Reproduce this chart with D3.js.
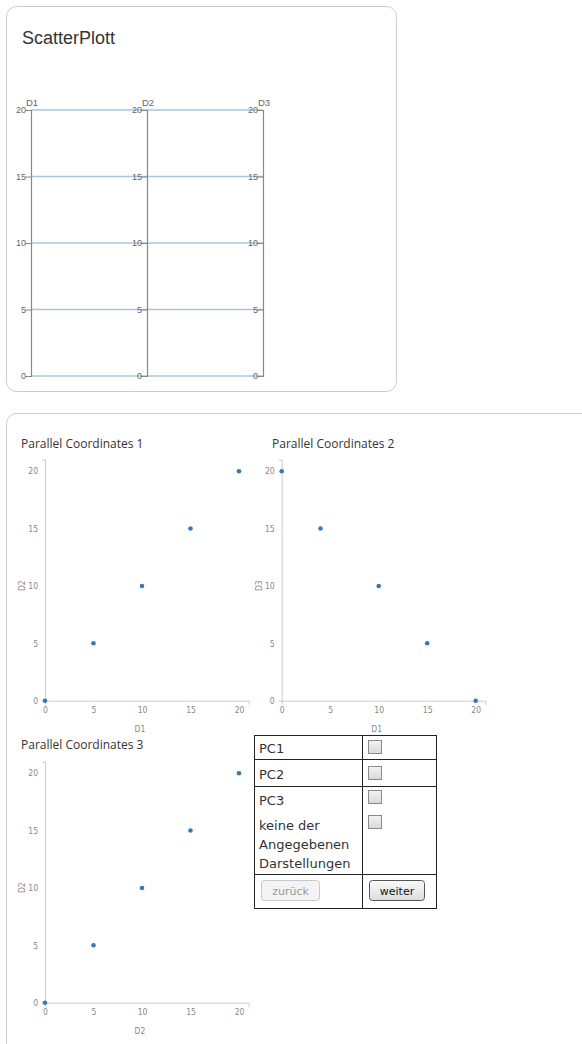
<!DOCTYPE html>
<html><head><meta charset="utf-8">
<script src="https://cdn.jsdelivr.net/npm/d3@7"></script>
<style>
html,body{margin:0;padding:0;background:#fff;}
svg{display:block;}
</style></head>
<body>
<svg id="chart" width="582" height="1044"></svg>
<script>
// ---- data ----
const dims = ["D1", "D2", "D3"];
const pcD1 = [0, 5, 10, 15, 20];
const pcD2 = [0, 5, 10, 15, 20];
const pcD3 = [0, 5, 10, 15, 20];
const axisTicks = [0, 5, 10, 15, 20];

const sc1X = [0, 5, 10, 15, 20];
const sc1Y = [0, 5, 10, 15, 20];
const sc2X = [0, 4, 10, 15, 20];
const sc2Y = [20, 15, 10, 5, 0];
const sc3X = [0, 5, 10, 15, 20];
const sc3Y = [0, 5, 10, 15, 20];

const scatterTitles = ["Parallel Coordinates 1", "Parallel Coordinates 2", "Parallel Coordinates 3"];
const tableRows = ["PC1", "PC2", "PC3"];
const noneLabel = ["keine der", "Angegebenen", "Darstellungen"];
const buttons = ["zurück", "weiter"];

const svg = d3.select("#chart");
const defs = svg.append("defs");
const g1 = defs.append("linearGradient").attr("id","cbGrad").attr("x1",0).attr("y1",0).attr("x2",0).attr("y2",1);
g1.append("stop").attr("offset","0%").attr("stop-color","#f4f4f4");
g1.append("stop").attr("offset","100%").attr("stop-color","#d8d8d8");
const g2 = defs.append("linearGradient").attr("id","btnGrad").attr("x1",0).attr("y1",0).attr("x2",0).attr("y2",1);
g2.append("stop").attr("offset","0%").attr("stop-color","#fafafa");
g2.append("stop").attr("offset","100%").attr("stop-color","#dcdcdc");

// ---- panels ----
svg.append("rect").attr("x",6.5).attr("y",6.5).attr("width",390).attr("height",385).attr("rx",10)
  .attr("fill","#fff").attr("stroke","#ccc");
svg.append("rect").attr("x",6.5).attr("y",413.5).attr("width",600).attr("height",640).attr("rx",10)
  .attr("fill","#fff").attr("stroke","#ccc");

svg.append("text").attr("x",22).attr("y",43.5).text("ScatterPlott")
  .attr("font-family","Liberation Sans, Arial, sans-serif").attr("font-size",18).attr("fill","#333");

// ---- parallel coordinates ----
const pcData = pcD1.map((v,i)=>({D1:v, D2:pcD2[i], D3:pcD3[i]}));
const px = d3.scalePoint().domain(dims).range([31, 263]);
const py = d3.scaleLinear().domain([0,20]).range([376, 110]);
const pc = svg.append("g");
pc.selectAll("path.line").data(pcData).enter().append("path")
  .attr("class","line")
  .attr("d", d => d3.line()(dims.map(k => [px(k), py(d[k])])))
  .attr("fill","none").attr("stroke","#a9c6df").attr("stroke-width",1.3);
dims.forEach(k => {
  const ag = pc.append("g").attr("transform",`translate(${px(k)},0)`)
    .call(d3.axisLeft(py).tickValues(axisTicks).tickSize(6));
  ag.select(".domain").attr("stroke","#888").attr("stroke-width",1.2);
  ag.selectAll(".tick line").attr("stroke","#888");
  ag.selectAll(".tick text").attr("fill","#666").attr("font-size",9)
    .attr("font-family","Liberation Sans, Arial, sans-serif").attr("x",-5);
  ag.append("text").attr("x",1).attr("y",106).attr("text-anchor","middle")
    .attr("fill","#666").attr("font-size",9.5).attr("font-family","Liberation Sans, Arial, sans-serif").text(k);
});

// ---- scatter plots ----
function scatter(ox, oy, xs, ys, xl, yl, title, tx, ty) {
  svg.append("text").attr("x",tx).attr("y",ty).text(title)
    .attr("font-family","Open Sans, Noto Sans, sans-serif").attr("font-size",12).attr("fill","#333");
  const x = d3.scaleLinear().domain([0,21]).range([ox, ox + 203.7]);
  const y = d3.scaleLinear().domain([0,21]).range([oy, oy - 241]);
  const ga = svg.append("g");
  const xa = ga.append("g").attr("transform",`translate(0,${oy})`)
    .call(d3.axisBottom(x).tickValues(axisTicks).tickSizeInner(0).tickSizeOuter(4).tickPadding(6));
  const ya = ga.append("g").attr("transform",`translate(${ox},0)`)
    .call(d3.axisLeft(y).tickValues(axisTicks).tickSizeInner(0).tickSizeOuter(3).tickPadding(7));
  [xa, ya].forEach(a => {
    a.select(".domain").attr("stroke","#ccc");
    a.selectAll(".tick text").attr("fill","#888").attr("font-size",8.5)
      .attr("font-family","DejaVu Sans Condensed, Liberation Sans Narrow, sans-serif");
  });
  ga.append("text").attr("x", ox + 95).attr("y", oy + 31).attr("text-anchor","middle")
    .attr("fill","#888").attr("font-size",8.5).attr("font-family","DejaVu Sans Condensed, sans-serif").text(xl);
  ga.append("text").attr("transform",`translate(${ox - 20},${oy - 115}) rotate(-90)`).attr("text-anchor","middle")
    .attr("fill","#888").attr("font-size",8.5).attr("font-family","DejaVu Sans Condensed, sans-serif").text(yl);
  ga.selectAll("circle").data(xs.map((v,i)=>[v, ys[i]])).enter().append("circle")
    .attr("cx", d => x(d[0])).attr("cy", d => y(d[1])).attr("r", 2.3).attr("fill","#3a78b5");
}
scatter(45, 700.7, sc1X, sc1Y, "D1", "D2", scatterTitles[0], 21, 448);
scatter(281.7, 700.7, sc2X, sc2Y, "D1", "D3", scatterTitles[1], 272, 448);
scatter(45, 1002.7, sc3X, sc3Y, "D2", "D2", scatterTitles[2], 21, 749);

// ---- answer table ----
const tb = svg.append("g");
const tf = "DejaVu Sans, Verdana, sans-serif";
tb.append("rect").attr("x",254.5).attr("y",735.5).attr("width",182).attr("height",173)
  .attr("fill","#fff").attr("stroke","#222");
tb.append("line").attr("x1",362.5).attr("x2",362.5).attr("y1",735.5).attr("y2",908.5).attr("stroke","#222");
[759.5, 786.5, 874.5].forEach(yy => tb.append("line").attr("x1",254.5).attr("x2",436.5)
  .attr("y1",yy).attr("y2",yy).attr("stroke","#222"));
const rowBase = [753, 779, 805];
tableRows.forEach((t,i) => tb.append("text").attr("x",259).attr("y",rowBase[i]).text(t)
  .attr("font-family",tf).attr("font-size",13).attr("fill","#333"));
noneLabel.forEach((t,i) => tb.append("text").attr("x",259).attr("y",830 + i*19).text(t)
  .attr("font-family",tf).attr("font-size",13).attr("fill","#333"));
[740, 766, 790, 815].forEach(yy => tb.append("rect").attr("x",368.5).attr("y",yy+0.5)
  .attr("width",13).attr("height",13).attr("fill","url(#cbGrad)").attr("stroke","#8a8a8a"));
// buttons
tb.append("rect").attr("x",261.5).attr("y",880.5).attr("width",58).attr("height",20).attr("rx",3)
  .attr("fill","#f4f4f4").attr("stroke","#c8c8c8");
tb.append("text").attr("x",290.5).attr("y",894.5).attr("text-anchor","middle").text(buttons[0])
  .attr("font-family",tf).attr("font-size",11).attr("fill","#999");
tb.append("rect").attr("x",369.5).attr("y",880.5).attr("width",55).attr("height",20).attr("rx",3)
  .attr("fill","url(#btnGrad)").attr("stroke","#555");
tb.append("text").attr("x",397).attr("y",894.5).attr("text-anchor","middle").text(buttons[1])
  .attr("font-family",tf).attr("font-size",11).attr("fill","#111");
</script>
</body></html>
